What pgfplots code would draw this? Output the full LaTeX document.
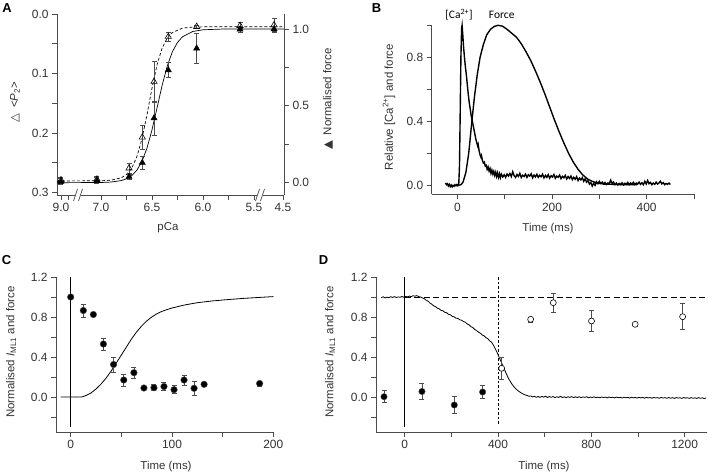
\documentclass[border=0pt]{standalone}
\usepackage{fontspec}
\setmainfont{Liberation Sans}
\newfontfamily\dejavu{DejaVu Sans}
\newfontfamily\carlito{Carlito}
\usepackage{pgfplots}
\pgfplotsset{compat=1.18}
\definecolor{axgray}{gray}{0.3}
\definecolor{txt}{gray}{0.2}
\newcommand\lab{\fontsize{11.5}{13}\selectfont\color{txt}}

\pgfplotsset{
  panel/.style={
    scale only axis, anchor=south west, clip=false,
    axis x line*=bottom, axis y line*=left,
    axis line style={-, axgray, line width=0.8pt},
    tick style={axgray, line width=0.8pt},
    tick align=outside, major tick length=5bp, minor tick length=5bp,
    tick label style={font=\fontsize{12}{14}\selectfont, text=txt},
    /pgf/number format/assume math mode=true,
    /pgf/number format/set thousands separator={},
  },
  onedec/.style={/pgf/number format/.cd, fixed, fixed zerofill, precision=1},
  ebar/.style={error bars/.cd, y dir=both, y explicit,
    error bar style={axgray, line width=0.6pt},
    error mark options={rotate=90, axgray, mark size=2.5bp, line width=0.6pt}},
}

\pgfplotstableread{
p v e
7.392 0.2787 0.005
7.039 0.2776 0.005
6.725 0.2590 0.008
6.595 0.2070 0.020
6.480 0.1136 0.035
6.340 0.0380 0.008
6.062 0.0213 0.003
5.637 0.0196 0.005
5.304 0.0185 0.011
}\Popen

\pgfplotstableread{
p v e
7.392 0.007 0.020
7.039 0.013 0.020
6.725 0.039 0.015
6.595 0.130 0.045
6.480 0.420 0.110
6.340 0.733 0.050
6.062 0.874 0.100
5.637 0.998 0.020
5.304 1.000 0.020
}\Pforce

\pgfplotstableread{
t v e
0 1.0 0
12.5 0.865 0.067
22.4 0.825 0.012
32.3 0.530 0.060
42.3 0.325 0.075
52.4 0.170 0.060
62.4 0.243 0.055
72.3 0.090 0.012
82.2 0.093 0.030
92.1 0.105 0.040
102 0.073 0.040
111.9 0.170 0.050
121.8 0.087 0.070
131.7 0.127 0.020
186.5 0.135 0.025
}\Cdata

\pgfplotstableread{
t v e
-88.7 0.003 0.060
74 0.055 0.080
212.6 -0.080 0.083
334 0.050 0.063
}\Dfilled

\pgfplotstableread{
t v e
415.6 0.287 0.108
540 0.777 0.025
637 0.943 0.097
801 0.760 0.103
988 0.727 0
1191.5 0.803 0.130
}\Dopen

\begin{document}
\begin{tikzpicture}
\path[use as bounding box] (0,0) rectangle (708bp,-474bp);

% ---------------- A : left axis (Delta <P2>) ----------------
\begin{axis}[panel, at={(57bp,-195bp)}, width=227bp, height=181bp,
  x dir=reverse, y dir=reverse,
  xmin=5.206, xmax=7.431, ymin=0, ymax=0.304,
  xtick={7.392,7,6.5,6,5.5,5.216}, xticklabels={9.0,7.0,6.5,6.0,5.5,4.5},
  minor xtick={7.324,6.75,6.25,5.75},
  ytick={0,0.1,0.2,0.3}, minor ytick={0.05,0.15,0.25},
  yticklabel style={onedec}]
\addplot[black, line width=0.7pt, dash pattern=on 3bp off 2bp] coordinates {
(7.431,0.2804)(7.0,0.2801)(6.9,0.2791)(6.8,0.2750)(6.75,0.2695)(6.7,0.2593)
(6.65,0.2408)(6.6,0.2110)(6.55,0.1700)(6.5,0.1247)(6.45,0.0850)(6.4,0.0571)
(6.35,0.0402)(6.3,0.0311)(6.2,0.0237)(6.1,0.0219)(5.9,0.0213)(5.206,0.0213)};
\addplot[only marks, mark=triangle, mark size=3.6bp,
  mark options={draw=black, fill=white, line width=0.6pt}, ebar]
  table[x=p, y=v, y error=e] {\Popen};
\end{axis}

% ---------------- A : right axis (normalised force) ----------------
\begin{axis}[panel, at={(57bp,-195bp)}, width=227bp, height=181bp,
  x dir=reverse, axis x line=none, axis y line*=right, xtick=\empty,
  xmin=5.206, xmax=7.431, ymin=-0.080, ymax=1.0977,
  ytick={0,0.5,1}, minor ytick={0.25,0.75}, yticklabel style={onedec}]
\addplot[black, line width=0.7pt] coordinates {
(7.431,0.0)(7.0,0.0013)(6.9,0.0043)(6.8,0.0141)(6.75,0.0254)(6.7,0.0453)
(6.65,0.0794)(6.6,0.136)(6.55,0.223)(6.5,0.343)(6.45,0.488)(6.4,0.635)
(6.35,0.760)(6.3,0.852)(6.25,0.913)(6.2,0.950)(6.1,0.984)(6.0,0.995)
(5.8,1.0)(5.206,1.0)};
\addplot[only marks, mark=triangle*, mark size=3.6bp,
  mark options={draw=black, fill=black}, ebar]
  table[x=p, y=v, y error=e] {\Pforce};
\end{axis}

% axis breaks in A
\foreach \bx in {78,260}{
  \fill[white] (\bx bp-3bp,-191bp) rectangle (\bx bp+3bp,-199bp);
  \draw[axgray, line width=0.7pt] (\bx bp-4.5bp,-201bp) -- (\bx bp-0.5bp,-189bp);
  \draw[axgray, line width=0.7pt] (\bx bp+0.5bp,-201bp) -- (\bx bp+4.5bp,-189bp);
}

% ---------------- B ----------------
\begin{axis}[panel, at={(431.7bp,-194.3bp)}, width=262.3bp, height=169bp,
  xmin=-54.2, xmax=500, ymin=-0.056, ymax=1.0,
  xtick={0,200,400}, minor xtick={100,300,500},
  ytick={0,0.4,0.8}, minor ytick={0.2,0.6,1.0}, yticklabel style={onedec}]
\addplot[black, line width=1.4pt] coordinates {
(-25,0.015)(-23,0.004)(-21,0.01)(-19,-0.004)(-17,0.006)(-15,-0.008)(-13,0.002)
(-11,-0.01)(-9,0.0)(-7,-0.006)(-5,0.004)(-3,-0.003)(-1,0.005)(1,-0.002)(3,0.01)
(4.5,0.12)(6,0.45)(7.5,0.8)(9,0.98)(10,1.0)(11.5,0.94)(13,0.87)(15,0.8)(17,0.74)
(19,0.69)(21,0.63)(23,0.57)(25,0.52)(27,0.48)(29,0.44)(31,0.41)(33,0.38)(35,0.35)
(37,0.32)(39,0.29)(41,0.265)(43,0.245)(44,0.255)(46,0.215)(48,0.19)(50,0.175)
(51,0.185)(53,0.155)(55,0.14)(57,0.145)(59,0.12)(61,0.125)(63,0.1)(65,0.115)
(67,0.09)(69,0.105)(71,0.075)(73,0.095)(75,0.07)(77,0.088)(79,0.062)(81,0.082)
(83,0.055)(85,0.078)(87,0.05)(89,0.072)(91,0.048)(93,0.07)(96,0.052)(99,0.066)
(102,0.05)(105,0.071)(108,0.058)(111,0.074)(114,0.055)(117,0.085)(120,0.06)
(123,0.05)(126,0.068)(129,0.056)(132,0.075)(135,0.049)(138,0.063)(141,0.055)
(144,0.07)(147,0.05)(150,0.066)(153,0.058)(156,0.072)(159,0.047)(162,0.064)
(165,0.052)(168,0.069)(171,0.05)(174,0.063)(177,0.054)(180,0.07)(183,0.046)
(186,0.062)(189,0.05)(192,0.067)(195,0.045)(198,0.06)(201,0.052)(204,0.068)
(207,0.044)(210,0.058)(213,0.05)(216,0.064)(219,0.042)(222,0.056)(225,0.047)
(228,0.062)(231,0.04)(234,0.055)(237,0.043)(240,0.058)(243,0.036)(246,0.05)
(249,0.038)(252,0.054)(255,0.03)(258,0.045)(261,0.034)(264,0.048)(267,0.025)
(270,0.04)(273,0.02)(276,0.03)(279,0.008)(282,0.018)(285,-0.005)(288,0.012)
(291,0.0)(294,0.022)(297,0.01)(300,0.025)(303,0.012)(306,0.02)(309,0.008)
(312,0.018)(315,0.005)(318,0.015)(321,0.01)(324,0.032)(327,0.012)(330,0.02)
(333,0.004)(336,0.014)(339,0.002)(342,0.012)(345,0.005)(348,0.016)(351,0.003)
(354,0.013)(357,0.006)(360,0.018)(363,0.004)(366,0.015)(369,0.007)(372,0.019)
(375,0.005)(378,0.014)(381,0.008)(384,0.02)(387,0.006)(390,0.016)(393,0.004)
(396,0.025)(399,0.008)(402,0.03)(405,0.01)(408,0.018)(411,0.004)(414,0.014)
(417,0.006)(420,0.02)(423,0.008)(426,0.015)(429,0.026)(432,0.009)(435,0.017)
(438,0.004)(441,0.012)(444,0.006)(447,0.014)(450,0.005)};
\addplot[black, line width=1.4pt] coordinates {
(2,0.0)(8,0.005)(12,0.02)(18,0.08)(24,0.2)(30,0.38)(36,0.55)(42,0.69)(48,0.8)
(55,0.88)(62,0.94)(70,0.975)(78,0.993)(86,1.0)(95,0.995)(105,0.975)(115,0.95)
(125,0.925)(135,0.885)(145,0.835)(155,0.78)(165,0.715)(175,0.645)(185,0.57)
(195,0.49)(205,0.41)(215,0.335)(225,0.265)(235,0.2)(245,0.145)(255,0.1)
(265,0.065)(275,0.04)(285,0.025)(295,0.015)(310,0.008)(340,0.005)(380,0.004)};
\end{axis}

% ---------------- C ----------------
\begin{axis}[panel, at={(56bp,-432bp)}, width=217.3bp, height=155bp,
  xmin=-14.5, xmax=200, ymin=-0.35, ymax=1.2,
  xtick={0,100,200}, minor xtick={50,150},
  ytick={0,0.4,0.8,1.2}, minor ytick={-0.2,0.2,0.6,1.0}, yticklabel style={onedec}]
\addplot[black, line width=0.7pt] coordinates {(0,1.2)(0,-0.3)};
\addplot[black, line width=0.8pt] coordinates {
(-10,0.001)(-5,-0.001)(0,0.001)(5,-0.001)(10,0.0)(12,0.003)(15,0.015)(20,0.04)
(25,0.08)(30,0.13)(35,0.19)(40,0.26)(45,0.34)(50,0.42)(55,0.5)(60,0.58)(65,0.65)
(70,0.71)(75,0.76)(80,0.8)(85,0.832)(90,0.856)(95,0.874)(100,0.89)(105,0.902)
(110,0.915)(115,0.925)(120,0.934)(125,0.943)(130,0.949)(135,0.955)(140,0.961)
(145,0.965)(150,0.97)(155,0.974)(160,0.978)(165,0.982)(170,0.986)(175,0.989)
(180,0.992)(185,0.995)(190,0.998)(195,1.001)(200,1.004)};
\addplot[only marks, mark=*, mark size=3.3bp,
  mark options={draw=black!70, fill=black}, ebar]
  table[x=t, y=v, y error=e] {\Cdata};
\end{axis}

% ---------------- D ----------------
\begin{axis}[panel, at={(376bp,-432bp)}, width=331bp, height=155bp,
  xmin=-123, xmax=1296, ymin=-0.35, ymax=1.2,
  xtick={0,400,800,1200}, minor xtick={200,600,1000},
  ytick={0,0.4,0.8,1.2}, minor ytick={-0.2,0.2,0.6,1.0}, yticklabel style={onedec}]
\addplot[black, line width=0.7pt] coordinates {(0,1.2)(0,-0.3)};
\addplot[black, line width=0.7pt, dash pattern=on 2.5bp off 2bp] coordinates {(400,1.2)(400,-0.28)};
\addplot[black, line width=0.7pt, dash pattern=on 6bp off 3.5bp] coordinates {(0,1.0)(1296,1.0)};
\addplot[black, line width=0.8pt] coordinates {
(-100,0.994)(-92,1.002)(-84,0.991)(-76,0.999)(-68,0.993)(-60,1.003)(-52,0.996)
(-44,1.004)(-36,0.995)(-28,1.001)(-20,0.997)(-12,1.005)(-4,0.998)(4,1.006)(12,1.001)
(20,1.009)(28,1.004)(36,1.013)(44,1.008)(52,1.014)(60,1.004)(68,1.0)(76,0.99)
(84,0.984)(92,0.968)(100,0.958)(108,0.94)(116,0.928)(124,0.912)(132,0.904)
(140,0.888)(148,0.882)(156,0.866)(164,0.862)(172,0.847)(180,0.843)(188,0.826)
(196,0.822)(204,0.806)(212,0.802)(220,0.788)(228,0.786)(236,0.772)(244,0.768)
(252,0.755)(260,0.748)(268,0.73)(276,0.722)(284,0.703)(292,0.695)(300,0.676)
(308,0.666)(316,0.648)(324,0.639)(332,0.621)(340,0.612)(348,0.594)(356,0.584)
(364,0.562)(372,0.549)(380,0.52)(388,0.484)(396,0.447)(404,0.403)(412,0.36)
(420,0.316)(428,0.272)(436,0.232)(444,0.19)(452,0.158)(460,0.128)(468,0.104)
(476,0.083)(484,0.066)(492,0.052)(500,0.04)(508,0.03)(516,0.021)(524,0.016)
(532,0.008)(540,0.01)(548,0.001)(556,0.007)(564,-0.003)(572,0.005)(580,-0.004)
(588,0.006)(596,-0.002)(604,0.008)(612,-0.005)(620,0.004)(628,-0.003)(636,0.005)
(644,-0.006)(652,0.003)(660,-0.004)(668,0.006)(676,-0.005)(684,0.002)(692,-0.007)
(700,0.003)(708,-0.004)(716,0.004)(724,-0.006)(732,0.002)(740,-0.005)(748,0.003)
(756,-0.007)(764,0.001)(772,-0.004)(780,0.003)(788,-0.008)(796,0.0)(804,-0.005)
(812,0.002)(820,-0.007)(828,-0.001)(836,-0.008)(844,0.0)(852,-0.006)(860,-0.001)
(868,-0.009)(876,0.0)(884,-0.007)(892,-0.002)(900,-0.009)(908,-0.001)(916,-0.008)
(924,-0.003)(932,-0.01)(940,-0.002)(948,-0.008)(956,-0.003)(964,-0.011)(972,-0.002)
(980,-0.009)(988,-0.004)(996,-0.011)(1004,-0.003)(1012,-0.009)(1020,-0.004)
(1028,-0.012)(1036,-0.003)(1044,-0.01)(1052,-0.005)(1060,-0.012)(1068,-0.004)
(1076,-0.01)(1084,-0.006)(1092,-0.013)(1100,-0.004)(1108,-0.011)(1116,-0.006)
(1124,-0.013)(1132,-0.005)(1140,-0.012)(1148,-0.006)(1156,-0.014)(1164,-0.005)
(1172,-0.011)(1180,-0.007)(1188,-0.014)(1196,-0.005)(1204,-0.012)(1212,-0.007)
(1220,-0.014)(1228,-0.006)(1236,-0.013)(1244,-0.008)(1252,-0.015)(1260,-0.006)
(1268,-0.013)(1276,-0.008)(1284,-0.015)(1292,-0.01)};
\addplot[only marks, mark=*, mark size=3.2bp,
  mark options={draw=black!70, fill=black}, ebar]
  table[x=t, y=v, y error=e] {\Dfilled};
\addplot[only marks, mark=*, mark size=3bp,
  mark options={draw=black, fill=white, line width=0.6pt}, ebar]
  table[x=t, y=v, y error=e] {\Dopen};
\end{axis}

% ---------------- labels ----------------
\node[font=\fontsize{13}{15}\selectfont\bfseries] at (7bp,-8bp) {A};
\node[font=\fontsize{13}{15}\selectfont\bfseries] at (376.5bp,-8bp) {B};
\node[font=\fontsize{13}{15}\selectfont\bfseries] at (6.5bp,-260bp) {C};
\node[font=\fontsize{13}{15}\selectfont\bfseries] at (323.5bp,-260bp) {D};

\node[font=\lab] at (168bp,-228bp) {pCa};
\node[font=\lab, rotate=90] at (15bp,-102bp) {{\dejavu △}\enspace<\textit{P}\textsubscript{2}>};
\node[font=\lab, rotate=90] at (328bp,-99bp) {{\dejavu ▲}\enspace Normalised force};

\node[font=\lab] at (548bp,-229bp) {Time (ms)};
\node[font=\lab, rotate=90] at (389bp,-107bp) {Relative [Ca\textsuperscript{2+}] and force};
\node[font=\fontsize{11.5}{13}\selectfont\carlito] at (459bp,-15bp) {[Ca\textsuperscript{2+}]};
\node[font=\fontsize{11.5}{13}\selectfont\carlito] at (501.7bp,-15bp) {Force};

\node[font=\lab] at (166bp,-467bp) {Time (ms)};
\node[font=\lab, rotate=90] at (11bp,-352bp) {Normalised \textit{I}\textsubscript{ML1} and force};
\node[font=\lab] at (544bp,-467bp) {Time (ms)};
\node[font=\lab, rotate=90] at (330bp,-352bp) {Normalised \textit{I}\textsubscript{ML1} and force};
\end{tikzpicture}
\end{document}
